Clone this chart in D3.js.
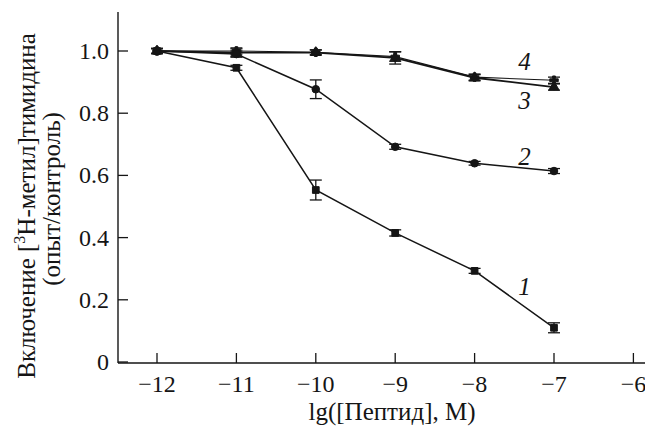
<!DOCTYPE html>
<html>
<head>
<meta charset="utf-8">
<script src="https://cdn.jsdelivr.net/npm/d3@7"></script>
</head>
<body style="margin:0">
<svg width="645" height="428"></svg>
<script>
// lg concentration values
const doses = [-12, -11, -10, -9, -8, -7];
const xTicks = [-12, -11, -10, -9, -8, -7, -6];
const yTicks = [0, 0.2, 0.4, 0.6, 0.8, 1.0];

// curve 1 (squares)
const s1 = [1.0, 0.946, 0.553, 0.415, 0.293, 0.11];
const e1 = [0.008, 0.008, 0.032, 0.01, 0.008, 0.016];
// curve 2 (circles)
const s2 = [1.0, 0.99, 0.877, 0.692, 0.639, 0.614];
const e2 = [0.008, 0.01, 0.03, 0.008, 0.006, 0.008];
// curve 3
const s3 = [1.0, 0.995, 0.995, 0.978, 0.914, 0.884];
const e3 = [0.008, 0.012, 0.008, 0.02, 0.01, 0.01];
// curve 4
const s4 = [1.0, 1.0, 0.996, 0.982, 0.916, 0.906];
const e4 = [0.008, 0.01, 0.008, 0.015, 0.01, 0.01];

const curveNames = ["1", "2", "3", "4"];

const ink = "#151515";
const fam = "Liberation Serif";

const svg = d3.select("svg");
const x = d3.scaleLinear()
  .domain([-12 - (157 - 118) / 79.4, -12 + (640 - 157) / 79.4])
  .range([118, 640]);
const y = d3.scaleLinear().domain([0, 1]).range([362, 51]);

// axis lines
svg.append("line").attr("x1", 118).attr("x2", 118).attr("y1", 12).attr("y2", 363)
  .attr("stroke", ink).attr("stroke-width", 1.4);
svg.append("line").attr("x1", 118).attr("x2", 645).attr("y1", 363).attr("y2", 363)
  .attr("stroke", ink).attr("stroke-width", 1.4);

// inward ticks
svg.selectAll(".xt").data(xTicks).enter().append("line")
  .attr("x1", d => x(d)).attr("x2", d => x(d)).attr("y1", 353).attr("y2", 363)
  .attr("stroke", ink).attr("stroke-width", 1.3);
svg.selectAll(".yt").data(yTicks).enter().append("line")
  .attr("x1", 118).attr("x2", 128).attr("y1", d => y(d)).attr("y2", d => y(d))
  .attr("stroke", ink).attr("stroke-width", 1.3);

// tick labels
svg.selectAll(".xl").data(xTicks).enter().append("text")
  .attr("x", d => x(d)).attr("y", 392)
  .attr("text-anchor", "middle").attr("font-size", 24).attr("fill", ink)
  .style("font-family", d => `'${fam}'`)
  .text(d => "\u2212" + Math.abs(d));
svg.selectAll(".yl").data(yTicks).enter().append("text")
  .attr("x", 109).attr("y", d => y(d) + 8)
  .attr("text-anchor", "end").attr("font-size", 24).attr("fill", ink)
  .style("font-family", d => `'${fam}'`)
  .text(d => d === 0 ? "0" : d3.format(".1f")(d));

// axis titles
svg.selectAll(".xtitle").data(["lg([Пептид], М)"]).enter().append("text")
  .attr("transform", "translate(392,420)")
  .attr("text-anchor", "middle").attr("font-size", 25).attr("fill", ink)
  .style("font-family", d => `'${fam}'`)
  .text(d => d);

const yt = svg.selectAll(".ytitle").data(["Включение ["]).enter().append("text")
  .attr("transform", "translate(35,206) rotate(-90)")
  .attr("text-anchor", "middle").attr("font-size", 25).attr("fill", ink)
  .style("font-family", d => `'${fam}'`);
yt.append("tspan").text("Включение [");
yt.append("tspan").attr("font-size", 16).attr("dy", -10).text("3");
yt.append("tspan").attr("dy", 10).text("H-метил]тимидина");
svg.selectAll(".ytitle2").data(["(опыт/контроль)"]).enter().append("text")
  .attr("transform", "translate(60,199) rotate(-90)")
  .attr("text-anchor", "middle").attr("font-size", 25).attr("fill", ink)
  .style("font-family", d => `'${fam}'`)
  .text(d => d);

// curves
const series = [
  { vals: s4, err: e4, shape: d3.symbolCross, w: 1.1, size: 40 },
  { vals: s3, err: e3, shape: d3.symbolTriangle, w: 1.8, size: 45 },
  { vals: s2, err: e2, shape: d3.symbolCircle, w: 1.5, size: 45 },
  { vals: s1, err: e1, shape: d3.symbolSquare, w: 1.5, size: 45 }
];

const line = d3.line().x(d => x(d[0])).y(d => y(d[1]));

series.forEach(s => {
  const pts = doses.map((d, i) => [d, s.vals[i], s.err[i]]);
  const g = svg.append("g");
  g.append("path").datum(pts).attr("d", line)
    .attr("fill", "none").attr("stroke", ink).attr("stroke-width", s.w);
  const eb = g.selectAll(".eb").data(pts).enter().append("g");
  eb.append("line")
    .attr("x1", d => x(d[0])).attr("x2", d => x(d[0]))
    .attr("y1", d => y(d[1] - d[2])).attr("y2", d => y(d[1] + d[2]))
    .attr("stroke", ink).attr("stroke-width", 1.3);
  [-1, 1].forEach(sg => {
    eb.append("line")
      .attr("x1", d => x(d[0]) - 6).attr("x2", d => x(d[0]) + 6)
      .attr("y1", d => y(d[1] + sg * d[2])).attr("y2", d => y(d[1] + sg * d[2]))
      .attr("stroke", ink).attr("stroke-width", 1.3);
  });
  g.selectAll(".m").data(pts).enter().append("path")
    .attr("transform", d => `translate(${x(d[0])},${y(d[1])})`)
    .attr("d", d3.symbol().type(s.shape).size(s.size))
    .attr("fill", ink).attr("stroke", ink).attr("stroke-width", 1);
});

// curve numbers
const labelPos = [[-7.37, 0.215], [-7.37, 0.635], [-7.37, 0.815], [-7.37, 0.94]];
svg.selectAll(".lbl").data(curveNames).enter().append("text")
  .attr("x", (d, i) => x(labelPos[i][0]))
  .attr("y", (d, i) => y(labelPos[i][1]))
  .attr("text-anchor", "middle").attr("font-size", 25)
  .attr("font-style", "italic").attr("fill", ink)
  .style("font-family", d => `'${fam}'`)
  .text(d => d);
</script>
</body>
</html>
